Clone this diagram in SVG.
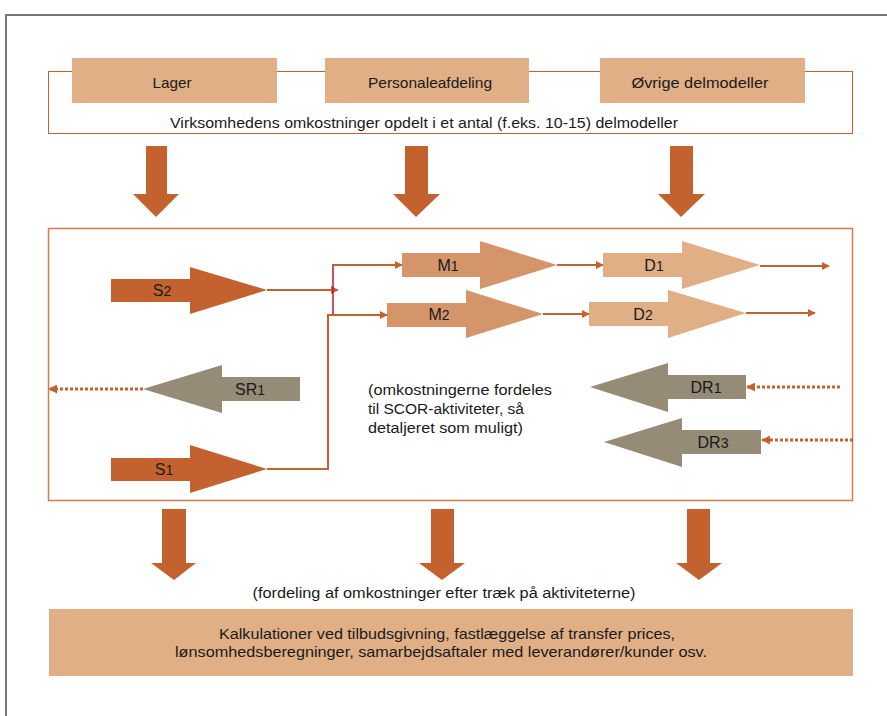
<svg xmlns="http://www.w3.org/2000/svg" width="887" height="716" viewBox="0 0 887 716">
<defs>
<style>
.t{font-family:"Liberation Sans",Arial,sans-serif;fill:#1a1a1a}
.lab{font-family:"Liberation Sans",Arial,sans-serif;font-size:16px;fill:#1a1a1a;text-anchor:middle}
.tab{fill:#E0AF85}
.dark{fill:#C4622F}
.mid{fill:#D4956A}
.light{fill:#E1AF85}
.gray{fill:#958B76}
.ln{stroke:#C4622F;stroke-width:2;fill:none}
.dot{stroke:#C4622F;stroke-width:3;stroke-dasharray:3 2;fill:none}
</style>
<marker id="ah" viewBox="0 0 10 10" refX="9" refY="5" markerWidth="4" markerHeight="4" orient="auto" markerUnits="strokeWidth">
<path d="M0,0 L10,5 L0,10 Z" fill="#C4622F"/>
</marker>
<marker id="ahd" viewBox="0 0 10 10" refX="9" refY="5" markerWidth="3" markerHeight="3" orient="auto" markerUnits="strokeWidth">
<path d="M0,0 L10,5 L0,10 Z" fill="#C4622F"/>
</marker>
</defs>
<rect width="887" height="716" fill="#fff"/>
<!-- outer frame -->
<path d="M6,716 V15 H887" stroke="#777" stroke-width="2" fill="none"/>

<!-- top box -->
<g id="topbox">
<rect x="48.5" y="71.5" width="804" height="62" fill="none" stroke="#C4622F" stroke-width="1"/>
<text class="t" x="424" y="128" font-size="15" text-anchor="middle" textLength="508" lengthAdjust="spacingAndGlyphs">Virksomhedens omkostninger opdelt i et antal (f.eks. 10-15) delmodeller</text>
</g>
<g id="lager"><rect class="tab" x="72" y="58" width="205" height="45"/><text class="t" x="172" y="88" font-size="15" text-anchor="middle" textLength="39" lengthAdjust="spacingAndGlyphs">Lager</text></g>
<g id="personale"><rect class="tab" x="325" y="58" width="204" height="45"/><text class="t" x="430" y="88" font-size="15" text-anchor="middle" textLength="124" lengthAdjust="spacingAndGlyphs">Personaleafdeling</text></g>
<g id="ovrige"><rect class="tab" x="600" y="58" width="205" height="45"/><text class="t" x="700" y="88" font-size="15" text-anchor="middle" textLength="137" lengthAdjust="spacingAndGlyphs">Øvrige delmodeller</text></g>

<!-- top down arrows -->
<g id="down-top">
<polygon class="dark" points="146,146 167,146 167,194 179,194 156,217 133,194 146,194"/>
<polygon class="dark" points="405,146 428,146 428,194 440,194 416,217 393,194 405,194"/>
<polygon class="dark" points="670,146 693,146 693,194 705,194 681,217 658,194 670,194"/>
</g>

<!-- middle box -->
<g id="midbox">
<rect x="48.5" y="228.5" width="804" height="272" fill="none" stroke="#D9784A" stroke-width="1.5"/>
<text class="t" font-size="15.5" x="368" y="395" textLength="184" lengthAdjust="spacingAndGlyphs">(omkostningerne fordeles</text>
<text class="t" font-size="15.5" x="368" y="414" textLength="156" lengthAdjust="spacingAndGlyphs">til SCOR-aktiviteter, så</text>
<text class="t" font-size="15.5" x="368" y="433" textLength="155" lengthAdjust="spacingAndGlyphs">detaljeret som muligt)</text>
</g>

<g id="connectors">
<line class="ln" x1="267" y1="290" x2="338" y2="290" marker-end="url(#ah)"/>
<line x1="333" y1="264" x2="333" y2="314" stroke="#C8102E" stroke-width="1.5"/>
<line class="ln" x1="332" y1="265" x2="402" y2="265" marker-end="url(#ah)"/>
<polyline class="ln" points="267,469 328,469 328,315 387,315" marker-end="url(#ah)"/>
<line class="ln" x1="557" y1="265" x2="603" y2="265" marker-end="url(#ah)"/>
<line class="ln" x1="543" y1="314" x2="589" y2="314" marker-end="url(#ah)"/>
<line class="ln" x1="760" y1="266" x2="829" y2="266" marker-end="url(#ah)"/>
<line class="ln" x1="746" y1="313" x2="815" y2="313" marker-end="url(#ah)"/>
<line class="dot" x1="143" y1="389" x2="49" y2="389" marker-end="url(#ahd)"/>
<line class="dot" x1="840" y1="387" x2="747" y2="387" marker-end="url(#ahd)"/>
<line class="dot" x1="853" y1="440" x2="762" y2="440" marker-end="url(#ahd)"/>
</g>

<g id="S2"><polygon class="dark" points="111,279 190,279 190,267 267,290 190,314 190,302 111,302"/><text class="lab" x="162" y="296">S<tspan font-size="14">2</tspan></text></g>
<g id="S1"><polygon class="dark" points="111,458 190,458 190,445 267,469 190,493 190,481 111,481"/><text class="lab" x="164" y="475">S<tspan font-size="14">1</tspan></text></g>
<g id="SR1"><polygon class="gray" points="300,377 222,377 222,365 143,389 222,413 222,401 300,401"/><text class="lab" x="250" y="395">SR<tspan font-size="14">1</tspan></text></g>
<g id="M1"><polygon class="mid" points="402,253 480,253 480,241 557,265 480,289 480,277 402,277"/><text class="lab" x="448" y="271">M<tspan font-size="14">1</tspan></text></g>
<g id="M2"><polygon class="mid" points="387,303 466,303 466,290 543,314 466,338 466,327 387,327"/><text class="lab" x="439" y="320">M<tspan font-size="14">2</tspan></text></g>
<g id="D1"><polygon class="light" points="603,253 682,253 682,241 760,265 682,289 682,277 603,277"/><text class="lab" x="654" y="271">D<tspan font-size="14">1</tspan></text></g>
<g id="D2"><polygon class="light" points="589,302 668,302 668,290 746,313 668,338 668,326 589,326"/><text class="lab" x="643" y="320">D<tspan font-size="14">2</tspan></text></g>
<g id="DR1"><polygon class="gray" points="746,375 668,375 668,363 590,387 668,412 668,399 746,399"/><text class="lab" x="706" y="393">DR<tspan font-size="14">1</tspan></text></g>
<g id="DR3"><polygon class="gray" points="761,430 682,430 682,418 604,442 682,467 682,454 761,454"/><text class="lab" x="713" y="448">DR<tspan font-size="14">3</tspan></text></g>

<!-- bottom down arrows -->
<g id="down-bottom">
<polygon class="dark" points="162,509 186,509 186,563 196,563 174,580 151,563 162,563"/>
<polygon class="dark" points="431,509 454,509 454,563 465,563 442,580 419,563 431,563"/>
<polygon class="dark" points="687,509 710,509 710,563 722,563 699,580 676,563 687,563"/>
</g>
<text class="t" x="444" y="598" font-size="14" text-anchor="middle" textLength="383" lengthAdjust="spacingAndGlyphs">(fordeling af omkostninger efter træk på aktiviteterne)</text>

<g id="result">
<rect class="tab" x="49" y="609" width="804" height="67"/>
<text class="t" x="447" y="639" font-size="15" text-anchor="middle" textLength="456" lengthAdjust="spacingAndGlyphs">Kalkulationer ved tilbudsgivning, fastlæggelse af transfer prices,</text>
<text class="t" x="441" y="657" font-size="15" text-anchor="middle" textLength="532" lengthAdjust="spacingAndGlyphs">lønsomhedsberegninger, samarbejdsaftaler med leverandører/kunder osv.</text>
</g>
</svg>
